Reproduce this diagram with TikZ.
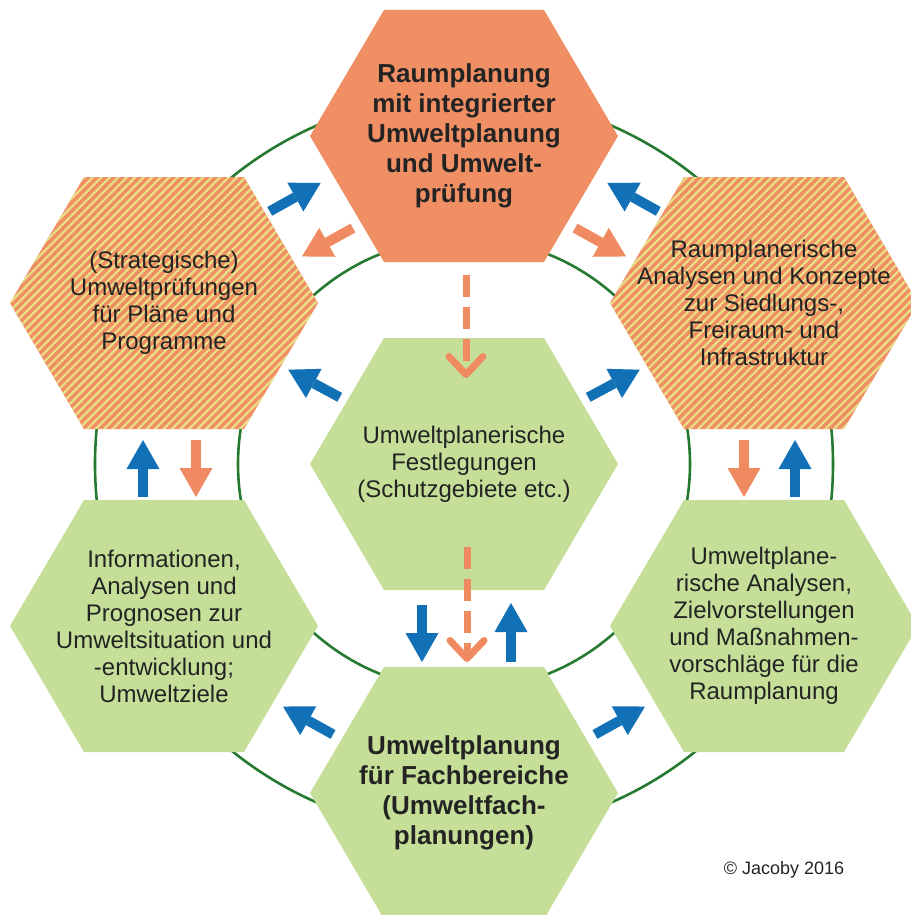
\documentclass[tikz,border=0pt]{standalone}
\usepackage{fontspec}
\setmainfont{Liberation Sans}
\usetikzlibrary{arrows.meta,patterns.meta,backgrounds}

\definecolor{hexorange}{RGB}{240,142,100}
\definecolor{hexgreen}{RGB}{197,223,153}
\definecolor{stripe}{RGB}{232,225,136}
\definecolor{arrblue}{RGB}{18,112,182}
\definecolor{arrorange}{RGB}{240,138,96}
\definecolor{ringgreen}{RGB}{38,122,48}
\definecolor{txt}{RGB}{35,35,35}

\tikzset{
  hexlabel/.style={align=center, text=txt, font=\fontsize{24}{27}\selectfont},
  hextitle/.style={hexlabel, font=\fontsize{26}{30}\selectfont\bfseries},
  copyr/.style={text=txt, font=\fontsize{18}{20}\selectfont},
  orangehex/.style={fill=hexorange},
  greenhex/.style={fill=hexgreen},
  stripedhex/.style={fill=hexorange, postaction={pattern={Lines[angle=45,distance=6pt,line width=2.2pt]}, pattern color=stripe}},
  bluearrow/.style={draw=arrblue, line width=10pt, -{Triangle[width=33pt,length=29pt,line width=0pt]}},
  orangearrow/.style={draw=arrorange, line width=10pt, -{Triangle[width=33pt,length=29pt,line width=0pt]}},
  dasharrow/.style={draw=arrorange, line width=7pt, dash pattern=on 22pt off 10pt, -{Straight Barb[length=18pt,width=34pt,round]}},
  ring/.style={draw=ringgreen, line width=2.6pt}
}

\begin{document}
\begin{tikzpicture}[x=1pt, y=-1pt]
    \useasboundingbox (0,0) rectangle (910,915);

    % Hexagon labels
    \node[hextitle] (T) at (464,136) {Raumplanung\\mit integrierter\\Umweltplanung\\und Umwelt-\\prüfung};
    \node[hexlabel] (UL) at (164,303) {(Strategische)\\Umweltprüfungen\\für Pläne und\\Programme};
    \node[hexlabel] (UR) at (764,303) {Raumplanerische\\Analysen und Konzepte\\zur Siedlungs-,\\Freiraum- und\\Infrastruktur};
    \node[hexlabel] (C) at (464,464) {Umweltplanerische\\Festlegungen\\(Schutzgebiete etc.)};
    \node[hexlabel] (LL) at (164,626) {Informationen,\\Analysen und\\Prognosen zur\\Umweltsituation und\\-entwicklung;\\Umweltziele};
    \node[hexlabel] (LR) at (764,626) {Umweltplane-\\rische Analysen,\\Zielvorstellungen\\und Maßnahmen-\\vorschläge für die\\Raumplanung};
    \node[hextitle] (B) at (464,793) {Umweltplanung\\für Fachbereiche\\(Umweltfach-\\planungen)};
    \node[copyr] (cr) at (784,870) {© Jacoby 2016};

    % Rings and hexagons behind the labels
    \begin{scope}[on background layer]
        \draw[ring] (C.center) circle[radius=226pt];
        \draw[ring] (C.center) circle[radius=369pt];
        \foreach \n/\s in {T/orangehex, UL/stripedhex, UR/stripedhex, C/greenhex, LL/greenhex, LR/greenhex, B/greenhex} {
            \path[\s] ([shift={(-154,0)}]\n.center) -- ([shift={(-80,-126)}]\n.center) -- ([shift={(80,-126)}]\n.center)
                -- ([shift={(154,0)}]\n.center) -- ([shift={(80,126)}]\n.center) -- ([shift={(-80,126)}]\n.center) -- cycle;
        }
    \end{scope}

    % Blue arrows
    \foreach \a/\b/\dx/\dy/\s/\e in {UL/T/-14/-25/137/148, UR/T/14/-25/137/148, C/UL/0/0/141/141, C/UR/0/0/141/141,
        B/LL/-6/11/143/143, B/LR/6/11/143/143, LL/UL/-21/0/129/137, LR/UR/31/0/129/137, C/B/-42/0/141/131, B/C/47/0/131/139} {
        \draw[bluearrow, shorten <=\s pt, shorten >=\e pt] ([shift={(\dx,\dy)}]\a.center) -- ([shift={(\dx,\dy)}]\b.center);
    }

    % Orange arrows
    \foreach \a/\b/\dx/\dy/\s/\e in {T/UL/13/23/142/143, T/UR/-13/23/142/143, UL/LL/32/0/137/129, UR/LR/-20/0/137/129} {
        \draw[orangearrow, shorten <=\s pt, shorten >=\e pt] ([shift={(\dx,\dy)}]\a.center) -- ([shift={(\dx,\dy)}]\b.center);
    }

    % Dashed arrows through the centre
    \draw[dasharrow, shorten <=139pt, shorten >=86pt] ([xshift=2pt]T.center) -- ([xshift=2pt]C.center);
    \draw[dasharrow, shorten <=83pt, shorten >=131pt] ([xshift=3pt]C.center) -- ([xshift=3pt]B.center);
\end{tikzpicture}
\end{document}
